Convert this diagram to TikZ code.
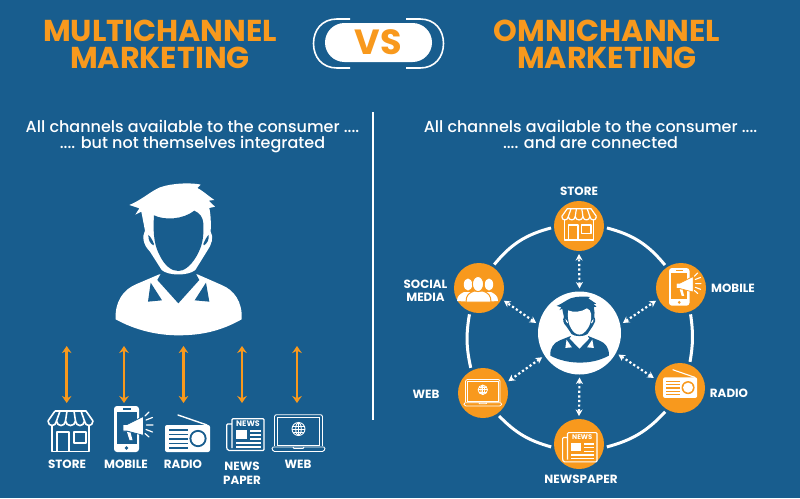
\documentclass[tikz,border=0pt]{standalone}
\usepackage{fontspec}
\setmainfont{Poppins}
\newfontfamily\medf{Poppins Medium}
\usetikzlibrary{arrows.meta}
\definecolor{bgblue}{HTML}{185D8E}
\definecolor{orng}{HTML}{F8991D}
\tikzset{
  title/.style={text=orng,font=\fontsize{30.2}{27}\selectfont\bfseries,inner sep=0,align=center},
  lead/.style={text=white,font=\medf\fontsize{16}{16}\selectfont,inner sep=0,align=center},
  lab/.style={text=white,font=\fontsize{11.9}{13}\selectfont\bfseries,inner sep=0,align=center},
  hubc/.style={circle,fill=orng,minimum size=50pt,inner sep=0,outer sep=3pt},
  centerc/.style={circle,fill=white,minimum size=83pt,inner sep=0,outer sep=3pt},
  ringarc/.style={draw=white,line width=3pt},
  dotlink/.style={draw=white,line width=2.2pt,dash pattern=on 2.2pt off 2.4pt,{Stealth[length=6.5pt,width=7pt]}-{Stealth[length=6.5pt,width=7pt]}},
  orlink/.style={draw=orng,line width=2.8pt,{Stealth[length=7pt,width=9.5pt]}-{Stealth[length=7pt,width=9.5pt]}},
}
% #1 x, #2 y, #3 scale, #4 line width, #5 background
\newcommand{\iconstore}[5]{\begin{scope}[shift={(#1,#2)},scale=#3,line width=#4pt,draw=white,line join=round]
  \draw (8,1) -- (39,1) -- (46,11);
  \draw (8,1) -- (1,11);
  \draw (1,11) .. controls (1,17) and (9,17) .. (9.5,11) .. controls (10,17) and (18,17) .. (18.5,11) .. controls (19,17) and (28,17) .. (28.5,11) .. controls (29,17) and (37,17) .. (37.5,11) .. controls (38,17) and (46,17) .. (46,11);
  \draw (9.5,11) -- (13,1) (18.5,11) -- (20,1) (28.5,11) -- (27,1) (37.5,11) -- (34,1);
  \draw (5,16) -- (5,41.5) -- (42,41.5) -- (42,16);
  \draw (10,41.5) -- (10,22) -- (22,22) -- (22,41.5);
  \draw (27,22) rectangle (39,33);
\end{scope}}
\newcommand{\iconmobile}[5]{\begin{scope}[shift={(#1,#2)},scale=#3]
  \fill[white,rounded corners=3pt] (0,0) rectangle (25,46);
  \fill[#5] (2.5,6) rectangle (22.5,38);
  \fill[#5] (8.5,2.4) rectangle (16.5,3.8);
  \fill[#5] (12.5,42) circle (1.8);
  \fill[white,draw=#5,line width=.7pt] (9,18.5) -- (13,18.5) -- (28,11) -- (29.5,11) -- (29.5,29) -- (28,29) -- (13,25) -- (9,25) -- cycle;
  \fill[white] (13,26) -- (16.5,26.5) -- (18.5,34) -- (15.5,34) -- cycle;
  \draw[white,line width=#4pt,line cap=round] (31,10) -- (35,6) (32,14) -- (38.5,11.5) (32.5,19) -- (39,19) (32,23.5) -- (38.5,26) (31,27.5) -- (35,31);
\end{scope}}
\newcommand{\iconradio}[5]{\begin{scope}[shift={(#1,#2)},scale=#3]
  \draw[white,line width=#4pt,line cap=round] (13,1) -- (42,11);
  \fill[white,rounded corners=2pt] (0,11) rectangle (45,38);
  \draw[#5,line width=#4pt] (4,16) -- (23,16) (4,20.5) -- (23,20.5) (4,25) -- (23,25) (4,29.5) -- (23,29.5) (4,34) -- (23,34);
  \fill[#5] (33,24.5) circle (8.6);
  \fill[white] (33,24.5) circle (6.6);
\end{scope}}
\newcommand{\iconnews}[6]{\begin{scope}[shift={(#1,#2)},scale=#3,line width=#4pt,draw=white]
  \draw[rounded corners=1pt] (6,30) -- (6,.7) -- (38,.7) -- (38,32.5) -- (4,32.5) .. controls (1,32.5) and (.7,30) .. (.7,28) -- (.7,6) -- (6,6);
  \node[text=white,inner sep=0,font=\fontsize{#6}{#6}\selectfont\bfseries] at (22,6) {NEWS};
  \fill[white] (10,12) rectangle (21,21);
  \draw (24,13) -- (35,13) (24,17) -- (35,17) (24,21) -- (35,21) (10,25) -- (35,25) (10,29) -- (35,29);
\end{scope}}
\newcommand{\iconlaptop}[5]{\begin{scope}[shift={(#1,#2)},scale=#3,line width=#4pt,draw=white]
  \draw[rounded corners=2pt] (3.5,32) -- (3.5,.7) -- (51.5,.7) -- (51.5,32);
  \draw (6.5,3.5) rectangle (48.5,31);
  \draw[rounded corners=1.5pt] (.7,33) -- (54.3,33) -- (53,37.5) -- (2,37.5) -- cycle;
  \draw (22,33) -- (23,34.5) -- (32,34.5) -- (33,33);
  \draw (27.5,15) circle (6.5);
  \draw (27.5,15) ellipse (2.8 and 6.5);
  \draw (21,15) -- (34,15) (21.8,12) -- (33.2,12) (21.8,18) -- (33.2,18) (27.5,8.5) -- (27.5,21.5);
\end{scope}}
% #1 x, #2 y, #3 xscale, #4 yscale, #5 figure colour, #6 ground colour
\newcommand{\iconperson}[6]{\begin{scope}[shift={(#1,#2)},xscale=#3,yscale=#4]
  \fill[#5] (47,418) .. controls (44,365) and (70,328) .. (110,312) -- (178,283) -- (292,283) -- (365,315) .. controls (402,330) and (428,365) .. (425,418) .. controls (360,455) and (300,466) .. (235,466) .. controls (170,466) and (105,450) .. (47,418) -- cycle;
  \fill[#6] (190,268) -- (172,300) -- (235,370) -- (298,300) -- (280,268) -- cycle;
  \fill[#6] (152,308) -- (144,365) -- (186,361) -- cycle;
  \fill[#6] (318,308) -- (328,365) -- (284,361) -- cycle;
  \fill[#5] (88,75) .. controls (125,60) and (150,35) .. (180,22) .. controls (220,8) and (280,8) .. (302,14) -- (292,24) .. controls (305,30) and (315,40) .. (343,60) -- (326,62) -- (345,80) -- (328,84) .. controls (333,110) and (333,130) .. (332,155) .. controls (342,170) and (335,195) .. (322,212) -- (286,270) .. controls (265,288) and (205,288) .. (185,270) -- (150,215) .. controls (130,195) and (125,170) .. (135,152) -- (124,95) -- (106,104) -- (118,85) -- cycle;
  \fill[#6] (162,106) .. controls (195,122) and (250,118) .. (283,92) .. controls (300,100) and (308,110) .. (310,130) .. controls (312,180) and (305,200) .. (290,228) .. controls (270,262) and (250,273) .. (235,273) .. controls (215,273) and (195,258) .. (180,228) .. controls (165,200) and (158,170) .. (162,106) -- cycle;
  \fill[#6] (145,165) .. controls (152,170) and (157,180) .. (162,192) -- (160,196) .. controls (150,190) and (145,180) .. (145,165) -- cycle;
  \fill[#6] (326,165) .. controls (320,170) and (315,180) .. (310,192) -- (312,196) .. controls (322,190) and (327,180) .. (326,165) -- cycle;
\end{scope}}
\begin{document}
\begin{tikzpicture}[x=1pt,y=-1pt]
\useasboundingbox (0,0) rectangle (800,498);
\fill[bgblue] (0,0) rectangle (800,498);

% titles
\node[title] (t1) at (160,44.5) {MULTICHANNEL\\MARKETING};
\node[title] (t2) at (607,44.5) {OMNICHANNEL\\MARKETING};

% VS pill
\node[fill=white,rounded corners=19.5pt,minimum width=107pt,minimum height=39pt,inner sep=0,text=orng,font=\fontsize{35}{35}\selectfont\bfseries] (vs) at (378.5,42.5) {VS};
\draw[white,line width=1.6pt] (350,19) -- (337,19) .. controls (322,19) and (313.5,30) .. (313.5,43.5) .. controls (313.5,57) and (322,68) .. (337,68) -- (350,68);
\draw[white,line width=1.6pt] (406,19) -- (420,19) .. controls (435,19) and (443.5,30) .. (443.5,43.5) .. controls (443.5,57) and (435,68) .. (420,68) -- (406,68);

% divider
\draw[white,line width=1.8pt] (373,112) -- (373,420);

% lead texts
\node[lead] (l1) at (192.5,137) {All channels available to the consumer ....\\.... but not themselves integrated};
\node[lead] (r1) at (590.5,134) {All channels available to the consumer ....\\.... and are connected};

% left side
\iconperson{100}{180}{.3333}{.3333}{white}{bgblue}
\coordinate (a1) at (66.7,346); \coordinate (b1) at (66.7,403);
\coordinate (a2) at (124,346);  \coordinate (b2) at (124,403);
\coordinate (a3) at (183.5,346);\coordinate (b3) at (183.5,403);
\coordinate (a4) at (242,346);  \coordinate (b4) at (242,403);
\coordinate (a5) at (297,346);  \coordinate (b5) at (297,403);
\draw[orlink] (a1) -- (b1);
\draw[orlink] (a2) -- (b2);
\draw[orlink] (a3) -- (b3);
\draw[orlink] (a4) -- (b4);
\draw[orlink] (a5) -- (b5);
\iconstore{47}{410}{1}{1.6}{bgblue}
\iconmobile{114}{406}{1}{1.2}{bgblue}
\iconradio{165}{414}{1}{1.4}{bgblue}
\iconnews{226}{418}{1}{1.2}{bgblue}{8}
\iconlaptop{271}{414}{1}{.9}{bgblue}
\node[lab] (ls1) at (67,464) {STORE};
\node[lab] (ls2) at (126,464) {MOBILE};
\node[lab] (ls3) at (183,464) {RADIO};
\node[lab] (ls4) at (242,473) {NEWS\\[1pt]PAPER};
\node[lab] (ls5) at (298,464) {WEB};

% right side
\node[centerc] (hub) at (579.5,333) {};
\node[hubc] (nStore) at (579,226) {};
\node[hubc] (nSocial) at (479,288) {};
\node[hubc] (nMobile) at (681,288) {};
\node[hubc] (nRadio) at (680,388) {};
\node[hubc] (nWeb) at (483,393) {};
\node[hubc] (nPaper) at (579,444) {};

\draw[ringarc] (nStore.184) to[bend right=18] (nSocial.57);
\draw[ringarc] (nStore.-4) to[bend left=18] (nMobile.125);
\draw[ringarc] (nSocial.250) to[bend right=11] (nWeb.116);
\draw[ringarc] (nMobile.290) to[bend left=9] (nRadio.69);
\draw[ringarc] (nWeb.-55) to[bend right=15] (nPaper.186);
\draw[ringarc] (nRadio.238) to[bend left=16] (nPaper.-6);

\draw[dotlink] (hub.90) -- (nStore.270);
\draw[dotlink] (hub.167) -- (nSocial.-27);
\draw[dotlink] (hub.13.6) -- (nMobile.207);
\draw[dotlink] (hub.-29.5) -- (nRadio.159);
\draw[dotlink] (hub.213) -- (nWeb.25);
\draw[dotlink] (hub.-90) -- (nPaper.90);

\iconperson{543}{295}{.155}{.145}{bgblue}{white}
\iconstore{561}{208}{.77}{1.2}{orng}
\iconmobile{669}{268}{.82}{1.1}{orng}
\iconradio{663}{369}{.76}{1.1}{orng}
\iconnews{562}{432}{.92}{1.1}{orng}{6.8}
\iconlaptop{463}{379}{.72}{.8}{orng}
% social media icon
\fill[white] (457,301) .. controls (457,296) and (460,294) .. (464,292) -- (472,292) -- (474,302) -- cycle;
\fill[white] (468,284.5) ellipse (4.2 and 6);
\fill[white] (498,301) .. controls (498,296) and (495,294) .. (491,292) -- (484,292) -- (482,302) -- cycle;
\fill[white] (489,284.5) ellipse (4.2 and 6);
\fill[white,draw=orng,line width=1pt] (466,302) .. controls (466,295) and (469,293) .. (474,291) -- (483,291) .. controls (488,293) and (491,295) .. (491,302) -- cycle;
\fill[white,draw=orng,line width=1pt] (478,284) ellipse (5.6 and 7.6);

\node[lab] (rs1) at (579,191) {STORE};
\node[lab] (rs2) at (425.5,290.5) {SOCIAL\\MEDIA};
\node[lab] (rs3) at (733,288) {MOBILE};
\node[lab] (rs4) at (729,393) {RADIO};
\node[lab] (rs5) at (426,394) {WEB};
\node[lab] (rs6) at (581,479) {NEWSPAPER};
\end{tikzpicture}
\end{document}
